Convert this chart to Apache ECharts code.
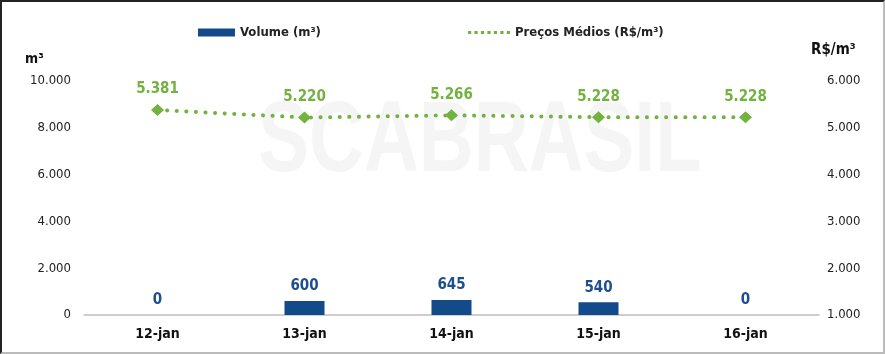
<!DOCTYPE html>
<html>
<head>
<meta charset="utf-8">
<script src="https://cdn.jsdelivr.net/npm/echarts@6/dist/echarts.min.js"></script>
<style>
html,body{margin:0;padding:0;background:#fff;}
#wrap{position:absolute;left:0;top:0;width:881px;height:350px;border-top:2px solid #222;border-left:2px solid #222;border-right:2px solid #bbb;border-bottom:2px solid #bbb;}
#chart{width:881px;height:350px;}
</style>
</head>
<body>
<div id="wrap"><div id="chart"></div></div>
<script>
const categories = ['12-jan', '13-jan', '14-jan', '15-jan', '16-jan'];
const volume = [0, 600, 645, 540, 0];
const prices = [5381, 5220, 5266, 5228, 5228];
const volumeName = 'Volume (m³)';
const priceName = 'Preços Médios (R$/m³)';

const FONT = '"DejaVu Sans Condensed", "DejaVu Sans", sans-serif';
const fmt = v => {
  const s = String(Math.round(v));
  return s.replace(/\B(?=(\d{3})+(?!\d))/g, '.');
};
const BLUE = '#124a8a';
const GREEN = '#72b340';

const chart = echarts.init(document.getElementById('chart'));
chart.setOption({
  animation: false,
  textStyle: { fontFamily: FONT },
  grid: { left: 82, right: 64, top: 79, bottom: 37 },
  legend: [
    {
      left: 191, top: 19, itemWidth: 37, itemHeight: 8, itemGap: 6,
      textStyle: { fontFamily: FONT, fontWeight: 'bold', fontSize: 13, color: '#222' },
      data: [{ name: volumeName, icon: 'rect' }]
    },
    {
      left: 461, top: 19, itemWidth: 42, itemHeight: 4,
      textStyle: { fontFamily: FONT, fontWeight: 'bold', fontSize: 13, color: '#222' },
      data: [{ name: priceName, icon: 'path://M0,0h1v1h-1z M2,0h1v1h-1z M4,0h1v1h-1z M6,0h1v1h-1z M8,0h1v1h-1z M10,0h1v1h-1z M12,0h1v1h-1z' }]
    }
  ],
  graphic: [
    {
      type: 'text', left: 23, top: 50, z: 10,
      style: { text: 'm³', font: 'bold 14px ' + FONT, fill: '#111' }
    },
    {
      type: 'text', left: 809, top: 41, z: 10,
      style: { text: 'R$/m³', font: 'bold 15px ' + FONT, fill: '#111' }
    },
    {
      type: 'text', x: 478, y: 141, z: -10, scaleX: 0.76, scaleY: 1,
      style: { text: 'SCABRASIL', font: 'bold 100px "Liberation Sans", Arial, sans-serif', fill: '#f5f5f5', align: 'center', verticalAlign: 'middle' }
    }
  ],
  xAxis: {
    type: 'category', data: categories,
    axisLine: { lineStyle: { color: '#bfbfbf', width: 1.5 } },
    axisTick: { show: false },
    axisLabel: { color: '#111', fontWeight: 'bold', fontSize: 14, margin: 12, fontFamily: FONT }
  },
  yAxis: [
    {
      type: 'value', min: 0, max: 10000, interval: 2000,
      splitLine: { show: false }, axisLine: { show: false }, axisTick: { show: false },
      axisLabel: { color: '#222', fontSize: 13, margin: 13, formatter: fmt, fontFamily: FONT }
    },
    {
      type: 'value', min: 1000, max: 6000, interval: 1000,
      splitLine: { show: false }, axisLine: { show: false }, axisTick: { show: false },
      axisLabel: { color: '#222', fontSize: 13, margin: 8, formatter: fmt, fontFamily: FONT }
    }
  ],
  series: [
    {
      name: volumeName, type: 'bar', data: volume, yAxisIndex: 0,
      barWidth: 40,
      itemStyle: { color: BLUE },
      label: { show: true, position: 'top', distance: 7, color: '#1d4f8f', fontWeight: 'bold', fontSize: 15, fontFamily: FONT, formatter: p => fmt(p.value) }
    },
    {
      name: priceName, type: 'line', data: prices, yAxisIndex: 1,
      symbol: 'diamond', symbolSize: [13, 12],
      lineStyle: { color: GREEN, width: 4, type: [0.1, 9.5], cap: 'round' },
      itemStyle: { color: GREEN },
      label: { show: true, position: 'top', distance: 7, color: GREEN, fontWeight: 'bold', fontSize: 15, fontFamily: FONT, formatter: p => fmt(p.value) }
    }
  ]
});
</script>
</body>
</html>
